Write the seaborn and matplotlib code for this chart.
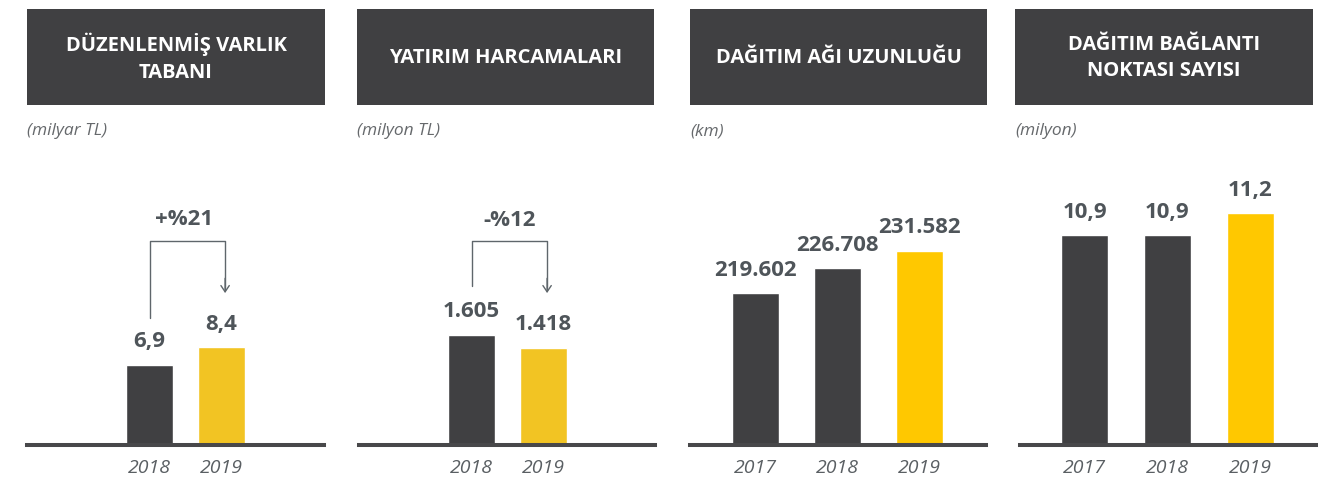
import matplotlib
matplotlib.use("Agg")
import matplotlib.pyplot as plt
from matplotlib.transforms import blended_transform_factory
import seaborn as sns

W, H = 1337, 479

# data
titles = [
    "DÜZENLENMİŞ VARLIK\nTABANI",
    "YATIRIM HARCAMALARI",
    "DAĞITIM AĞI UZUNLUĞU",
    "DAĞITIM BAĞLANTI\nNOKTASI SAYISI",
]
units = ["(milyar TL)", "(milyon TL)", "(km)", "(milyon)"]

asset_years = ["2018", "2019"]
asset_values = [6.9, 8.4]
asset_labels = ["6,9", "8,4"]

capex_years = ["2018", "2019"]
capex_values = [1605, 1418]
capex_labels = ["1.605", "1.418"]

network_years = ["2017", "2018", "2019"]
network_values = [219602, 226708, 231582]
network_labels = ["219.602", "226.708", "231.582"]

connection_years = ["2017", "2018", "2019"]
connection_values = [10.9, 10.9, 11.2]
connection_labels = ["10,9", "10,9", "11,2"]

change_labels = ["+%21", "-%12"]

DARK = "#404042"
YELLOW_A = "#F2C423"
YELLOW_B = "#FFC800"
LINE = "#48484a"
VALUE_C = "#4f555a"
YEAR_C = "#5a5f63"
UNIT_C = "#66696c"

sns.set_style("white")
plt.rcParams["font.family"] = ["Open Sans", "DejaVu Sans"]

panels = [
    dict(years=asset_years, values=asset_values, labels=asset_labels,
         colors=[DARK, YELLOW_A], header=(27, 325), base=(27, 324),
         c0=149.5, step=72, ylim=(0, 25.3)),
    dict(years=capex_years, values=capex_values, labels=capex_labels,
         colors=[DARK, YELLOW_A], header=(357, 654), base=(359, 655),
         c0=471.5, step=72, ylim=(0, 4304)),
    dict(years=network_years, values=network_values, labels=network_labels,
         colors=[DARK, DARK, YELLOW_B], header=(690, 987), base=(690, 986),
         c0=755, step=82.25, ylim=(176248, 260389)),
    dict(years=connection_years, values=connection_values, labels=connection_labels,
         colors=[DARK, DARK, YELLOW_B], header=(1015, 1313), base=(1020, 1316),
         c0=1084.5, step=83, ylim=(8.04, 12.06)),
]

# bracket geometry in axes fraction (bottom of left leg, top, arrow tip, text baseline)
brackets = [
    dict(text_x=0.48, left=0.4305, top=0.6915, tip=0.515, text_y=0.746),
    dict(text_x=0.535, left=0.539, top=0.6915, tip=0.515, text_y=0.742),
]

fig = plt.figure(figsize=(W / 100, H / 100), dpi=100)

base_y = 445
ax_h = 295

for i, p in enumerate(panels):
    hx0, hx1 = p["header"]
    # header box
    hax = fig.add_axes([hx0 / W, (H - 105) / H, (hx1 - hx0) / W, 96 / H])
    hax.set_facecolor(DARK)
    hax.set_xticks([])
    hax.set_yticks([])
    for s in hax.spines.values():
        s.set_visible(False)
    hax.text(0.5, 0.49, titles[i], ha="center", va="center", color="white",
             fontsize=14.5, fontweight="bold", linespacing=1.45,
             transform=hax.transAxes)

    fig.text(hx0 / W, (H - 131) / H, units[i], ha="left", va="center",
             fontsize=12.5, style="italic", color=UNIT_C)

    bx0, bx1 = p["base"]
    ax = fig.add_axes([bx0 / W, (H - base_y) / H, (bx1 - bx0) / W, ax_h / H])
    width = 47 / p["step"]
    sns.barplot(x=p["years"], y=p["values"], hue=p["years"], palette=p["colors"],
                width=width, legend=False, saturation=1, ax=ax)
    ax.set_xlim((bx0 - p["c0"]) / p["step"], (bx1 - p["c0"]) / p["step"])
    ax.set_ylim(*p["ylim"])

    for cont, lab in zip(ax.containers, p["labels"]):
        ax.bar_label(cont, labels=[lab], padding=9, fontsize=16,
                     fontweight="bold", color=VALUE_C)

    for s in ["top", "left", "right"]:
        ax.spines[s].set_visible(False)
    ax.spines["bottom"].set_color(LINE)
    ax.spines["bottom"].set_linewidth(2.9)
    ax.spines["bottom"].set_zorder(5)
    ax.set_yticks([])
    ax.set_ylabel("")
    ax.tick_params(axis="x", length=0, pad=10, labelsize=14, labelcolor=YEAR_C)
    for t in ax.get_xticklabels():
        t.set_fontstyle("italic")
    ax.patch.set_alpha(0)

    if i < len(brackets):
        b = brackets[i]
        tr = blended_transform_factory(ax.transData, ax.transAxes)
        ax.plot([0, 0, 1.05, 1.05], [b["left"], b["top"], b["top"], b["tip"] + 0.01],
                color="#5f666b", lw=1.0, transform=tr, clip_on=False)
        ax.annotate("", xy=(1.05, b["tip"]), xytext=(1.05, b["tip"] + 0.05),
                    xycoords=tr, textcoords=tr,
                    arrowprops=dict(arrowstyle="->,head_length=0.45,head_width=0.3",
                                    color="#5f666b", lw=1.0, shrinkA=0, shrinkB=0))
        ax.text(b["text_x"], b["text_y"], change_labels[i], transform=tr,
                ha="center", va="baseline", fontsize=16, fontweight="bold",
                color=VALUE_C)

fig.savefig("out.png", dpi=100)
